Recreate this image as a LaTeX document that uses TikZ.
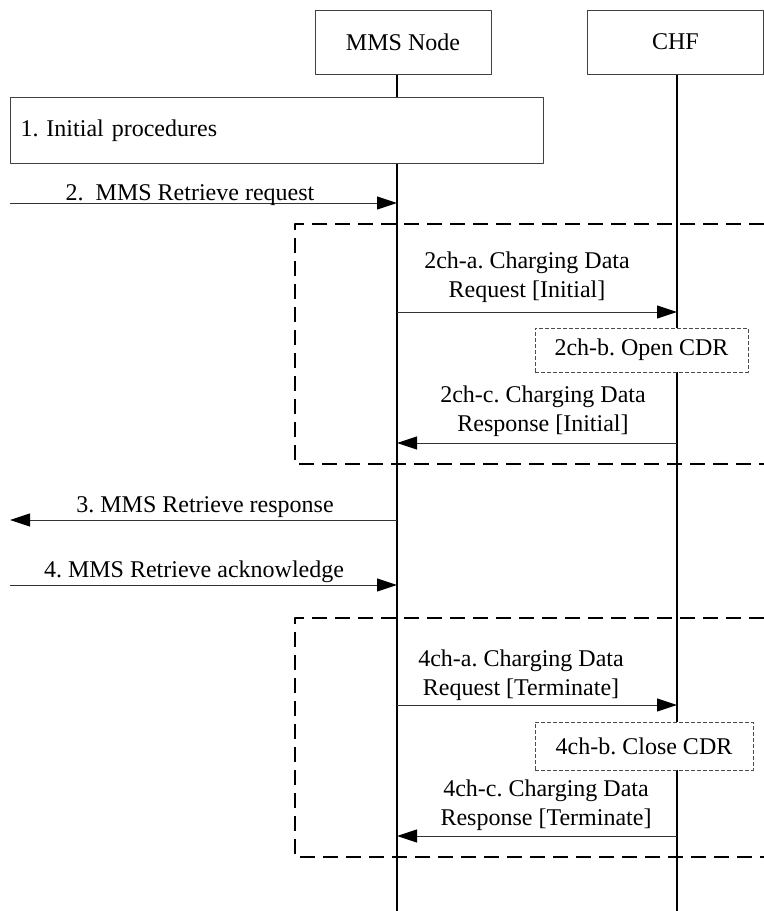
\documentclass[tikz,border=0pt]{standalone}
\usepackage{fontspec}
\setmainfont{Liberation Serif}
\usetikzlibrary{arrows.meta}
\frenchspacing
\begin{document}
\begin{tikzpicture}[x=0.5pt,y=-0.5pt,>={Triangle[length=10pt,width=6.5pt,color=black]}, font=\fontsize{12}{14.5}\selectfont, line join=round]
	\tikzset{
		entity/.style={draw=black!75,line width=0.5pt,fill=white,minimum width=88pt,minimum height=32pt,inner sep=0pt},
		msg/.style={->,line width=0.5pt,draw=black!80},
		lbl/.style={align=center,inner sep=0pt},
		cdrbox/.style={draw=black!70,dash pattern=on 2pt off 1pt,line width=0.5pt,fill=white,inner sep=0pt},
		grp/.style={dash pattern=on 7.5pt off 4pt,line width=0.75pt}
	}
	\def\xm{397} \def\xc{677} % lifelines
	\useasboundingbox (0,0) rectangle (764,911);
	% entities and lifelines
	\node[entity] (mms) at (403,42) {MMS Node};
	\node[entity] (chf) at (675.5,42) {CHF};
	\coordinate (mmsEnd) at (\xm,911);
	\coordinate (chfEnd) at (\xc,911);
	\draw[line width=0.75pt] (mms.south -| mmsEnd) -- (mmsEnd);
	\draw[line width=0.75pt] (chf.south -| chfEnd) -- (chfEnd);
	% charging groups
	\draw[grp] (764,224) -| (295,464) -- (764,464);
	\draw[grp] (764,618) -| (295,857) -- (764,857);
	% boxes
	\node[draw=black!75,line width=0.5pt,fill=white,anchor=north west,text width=256.5pt,inner xsep=5pt,minimum height=33pt,align=left] (init) at (10,97) {1. Initial procedures};
	\node[cdrbox,minimum width=106.5pt,minimum height=22pt] (open) at (641.5,350) {2ch-b. Open CDR};
	\node[cdrbox,minimum width=109pt,minimum height=24pt] (close) at (644,746) {4ch-b. Close CDR};
	% message end points
	\coordinate (s2) at (10,203);   \coordinate (m2) at (\xm,203);
	\coordinate (m2a) at (\xm,312); \coordinate (c2a) at (\xc,312);
	\coordinate (c2c) at (\xc,443); \coordinate (m2c) at (\xm,443);
	\coordinate (m3) at (\xm,520);  \coordinate (s3) at (10,520);
	\coordinate (s4) at (10,585);   \coordinate (m4) at (\xm,585);
	\coordinate (m4a) at (\xm,705); \coordinate (c4a) at (\xc,705);
	\coordinate (c4c) at (\xc,836); \coordinate (m4c) at (\xm,836);
	% messages
	\draw[msg] (s2) -- (m2);
	\draw[msg] (m2a) -- (c2a);
	\draw[msg] (c2c) -- (m2c);
	\draw[msg] (m3) -- (s3);
	\draw[msg] (s4) -- (m4);
	\draw[msg] (m4a) -- (c4a);
	\draw[msg] (c4c) -- (m4c);
	% labels
	\node[lbl,anchor=base] (l2) at (190,200) {2.\ \ MMS Retrieve request};
	\node[lbl,anchor=south] (l2a) at (527,303) {2ch-a. Charging Data\\Request [Initial]};
	\node[lbl,anchor=south] (l2c) at (543,437) {2ch-c. Charging Data\\Response [Initial]};
	\node[lbl,anchor=base] (l3) at (205,512) {3. MMS Retrieve response};
	\node[lbl,anchor=base] (l4) at (194,577) {4. MMS Retrieve acknowledge};
	\node[lbl,anchor=south] (l4a) at (521,701) {4ch-a. Charging Data\\Request [Terminate]};
	\node[lbl,anchor=south] (l4c) at (546,831) {4ch-c. Charging Data\\Response [Terminate]};
\end{tikzpicture}
\end{document}
